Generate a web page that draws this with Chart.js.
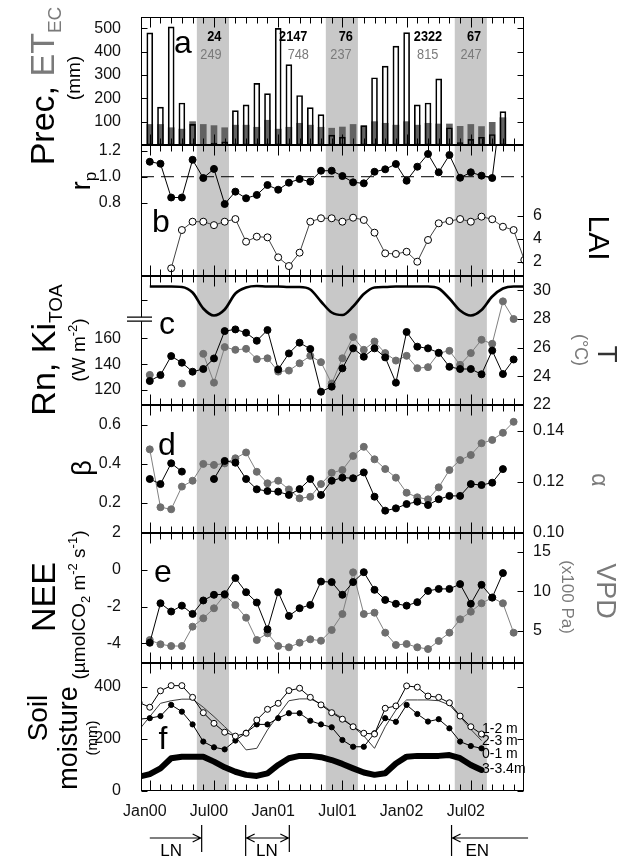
<!DOCTYPE html>
<html><head><meta charset="utf-8">
<script src="https://cdn.jsdelivr.net/npm/chart.js@4/dist/chart.umd.min.js"></script>
<style>
html,body{margin:0;padding:0;background:#fff;width:628px;height:857px;overflow:hidden}
#wrap{position:relative;width:628px;height:857px}
#wrap canvas{position:absolute;left:0;top:0}
</style></head><body><div id="wrap"></div>
<script>
// ---------------- DATA ----------------
const MONTHS = ['Jan00','Feb00','Mar00','Apr00','May00','Jun00','Jul00','Aug00','Sep00','Oct00','Nov00','Dec00',
  'Jan01','Feb01','Mar01','Apr01','May01','Jun01','Jul01','Aug01','Sep01','Oct01','Nov01','Dec01',
  'Jan02','Feb02','Mar02','Apr02','May02','Jun02','Jul02','Aug02','Sep02','Oct02','Nov02','Dec02'];
const MONTH_X = [0,1,2,3,4,5,6,7,8,9,10,11,12,13,14,15,16,17,18,19,20,21,22,23,24,25,26,27,28,29,30,31,32,33,34,35];
const SOIL_X = [-1,0,1,2,3,4,5,6,7,8,9,10,11,12,13,14,15,16,17,18,19,20,21,22,23,24,25,26,27,28,29,30,31,32,33,34,35];

// (a) monthly precipitation and ET_EC (mm)
const PREC  = [480,162,506,180,88,0,8,14,147,172,264,220,499,344,212,160,130,42,34,0,83,288,338,423,481,172,180,283,74,10,24,33,45,143,null,null];
const ET_EC = [88,88,74,68,100,88,83,74,85,85,76,106,68,76,93,85,76,72,77,88,82,100,93,85,100,85,93,90,90,80,88,79,97,117,null,null];
// seasonal totals printed in panel a
const SEASON_PREC = ['24','2147','76','2322','67'];
const SEASON_ET   = ['249','748','237','815','247'];
const SEASON_PREC_AT = [6.03,13.41,18.31,26.0,30.3];
const SEASON_ET_AT   = [5.72,13.88,17.87,25.97,30.02];

// (b)
const RP_REF = 1.0;
const RP  = [1.115,1.10,0.84,0.84,1.13,0.99,1.06,0.79,0.885,0.834,0.86,0.936,0.90,0.954,0.982,0.962,1.046,1.046,1.005,0.957,0.949,1.038,1.057,1.098,0.969,1.077,1.175,1.034,1.167,0.992,1.034,1.008,0.99,1.65,null,null];
const LAI = [null,null,1.42,4.77,5.5,5.5,5.2,5.5,5.73,3.75,4.19,4.13,2.38,1.62,2.79,5.5,5.8,5.8,5.5,5.85,5.65,4.54,2.73,2.68,2.87,2.0,3.9,5.36,5.56,5.73,5.5,5.94,5.71,5.06,4.77,2.15];

// (c)
const KI_TOA = [427,427,427,426,415,383,369,381,413,425,428,427,427,426,426,421,397,375,370,387,412,425,426,427,427,427,427,423,403,379,369,380,407,423,427,427];
const RN     = [127,131.6,146.3,141.2,134.2,136.3,144.5,165.7,167,164.4,158.2,166.5,136,148.4,156.7,151.8,118.7,122.6,136.8,152.3,145.8,152.3,145.3,125.7,165,153.6,152.3,148.9,138,136.3,136.3,132.2,150.6,132.4,143.7,null];
const T_AIR  = [24.1,null,null,23.5,null,25.57,23.56,26.04,25.85,25.92,25.2,25.26,24.33,24.4,24.91,25.43,24.99,23.5,25.26,26.74,25.85,26.43,25.62,25.1,25.43,24.57,24.64,25.62,25.78,24.8,25.62,26.55,26.27,29.23,28.0,null];

// (d)
const BETA  = [0.322,0.296,0.403,0.360,null,null,0.322,0.415,0.406,0.322,0.269,0.260,0.257,0.240,0.270,0.322,0.240,0.313,0.329,0.326,0.356,0.231,0.159,0.171,0.193,0.205,0.188,0.218,0.235,0.235,0.296,0.291,0.303,0.373,null,null];
const ALPHA = [0.1328,0.1101,0.1093,0.1182,0.1205,0.1271,0.1267,0.1273,0.1293,0.1316,0.1240,0.1195,0.1205,0.1171,0.1136,0.1142,0.1192,0.1236,0.1247,0.1302,0.1338,0.1289,0.1251,0.1217,0.1158,0.1140,0.1132,0.1179,0.1247,0.1286,0.1306,0.1352,0.1365,0.1393,0.1436,null];

// (e)
const NEE = [-3.97,-1.82,-2.27,-1.95,-2.40,-1.67,-1.36,-1.33,-0.45,-1.22,-1.78,-3.24,-1.22,-2.51,-2.09,-1.91,-0.64,-0.67,-1.36,-0.67,-0.13,-1.09,-1.64,-1.85,-1.95,-1.76,-1.15,-1.04,-1.04,-0.78,-1.85,-0.82,-1.51,-0.18,null,null];
const VPD = [3.82,3.28,3.06,3.06,5.51,6.57,7.84,9.52,8.25,6.65,3.82,4.67,3.06,2.90,3.48,3.91,3.73,5.09,7.11,12.39,7.11,7.28,4.75,3.19,3.32,2.90,2.68,3.70,4.75,6.44,7.41,8.47,9.18,8.47,4.75,null];

// (f) soil moisture (mm), starting Dec99
const SOIL_1_2  = [340,322,385,405,405,360,301,260,226,211,222,273,314,337,386,395,360,331,301,276,247,222,219,318,327,404,399,365,360,339,288,247,219,null,null,null,null];
const SOIL_2_3  = [235,286,337,347,353,353,322,286,247,209,158,164,235,292,347,354,354,335,305,280,247,212,164,247,311,350,350,350,347,331,286,237,194,null,null,null,null];
const SOIL_0_1  = [276,280,288,331,305,256,190,168,160,194,224,256,256,280,299,299,270,256,245,196,170,170,222,280,266,331,296,267,276,241,190,173,164,null,null,null,null];
const SOIL_3_34 = [55,65,87,126,132,132,132,113,91,74,62,58,68,100,126,135,135,130,119,104,87,71,62,68,106,132,135,135,135,138,126,100,81,null,null,null,null];
const SOIL_LABELS = ['1-2 m','2-3 m','0-1 m','3-3.4m'];

// dry seasons (shaded), in month units
const DRY_BANDS = [[4.4,7.4],[16.45,19.45],[28.5,31.5]];
// ENSO phases
const ENSO = [
  {label:'LN', from:0.0, to:4.85, startBar:false, endBar:true, labelAt:2.0},
  {label:'LN', from:8.96, to:13.04, startBar:true, endBar:true, labelAt:10.95},
  {label:'EN', from:28.2, to:35.35, startBar:true, endBar:false, labelAt:30.6}
];

// ---------------- LAYOUT ----------------
const PAGE_W = 628, PAGE_H = 857, PLOT_L = 141, PLOT_R = 524;
const X_MIN = -0.82, X_MAX = 34.97;
const PANELS = {a:[17,145], b:[145,276], c:[276,405], d:[405,533], e:[533,663], f:[663,791]};
const FONT = '"Liberation Sans", Arial, Helvetica, sans-serif';
const GRAY_DOT = '#6e6e6e', GRAY_LINE = '#808080', GRAY_TXT = '#7a7a7a', BAND = '#c8c8c8';
Chart.defaults.font.family = FONT;
Chart.defaults.color = '#111';

const xy = (arr, xs) => arr.map((v,i)=>({x:(xs||MONTH_X)[i], y:v}));

function yAxis(pos, min, max, ticks, fmt, extra) {
  return Object.assign({
    type:'linear', position:pos, min, max,
    afterBuildTicks: ax => { ax.ticks = ticks.map(v=>({value:v})); },
    afterFit: ax => { ax.width = pos === 'left' ? PLOT_L : PAGE_W - PLOT_R; ax.paddingTop = 0; ax.paddingBottom = 0; },
    grid:{display:false, drawTicks:false}, border:{display:false},
    ticks:{padding: pos==='left'?20:9, color:'#111', autoSkip:false, font:{size: 16}, callback: v => fmt(v)}
  }, extra||{});
}
const fInt = v => String(Math.round(v));
const f1 = v => v.toFixed(1);
const f2 = v => v.toFixed(2);

function drawRich(ctx, bx, cy, angle, parts) {
  ctx.save();
  ctx.translate(bx, cy);
  ctx.rotate(angle);
  let total = 0;
  parts.forEach(p => { ctx.font = (p.b?'bold ':'') + p.s + 'px ' + FONT; p._w = ctx.measureText(p.t).width; total += p._w; });
  let x = -total/2;
  ctx.textBaseline = 'alphabetic'; ctx.textAlign = 'left';
  parts.forEach(p => { ctx.font = (p.b?'bold ':'') + p.s + 'px ' + FONT; ctx.fillStyle = p.c || '#000'; ctx.fillText(p.t, x, p.dy || 0); x += p._w; });
  ctx.restore();
}
const UP = -Math.PI/2, DOWN = Math.PI/2;

function letter(ctx, t, x, y) {
  ctx.save(); ctx.font = '32px ' + FONT; ctx.fillStyle = '#000'; ctx.textAlign = 'center'; ctx.textBaseline = 'alphabetic';
  ctx.fillText(t, x, y); ctx.restore();
}

function framePlugin(opts) {
  return {
    id: 'frame',
    beforeDatasetsDraw(chart) {
      const {ctx, chartArea: ca, scales} = chart;
      ctx.save(); ctx.fillStyle = BAND;
      DRY_BANDS.forEach(([s,e]) => {
        const x1 = scales.x.getPixelForValue(s), x2 = scales.x.getPixelForValue(e);
        ctx.fillRect(x1, ca.top, x2 - x1, ca.bottom - ca.top);
      });
      ctx.restore();
    },
    afterDraw(chart) {
      const {ctx, chartArea: ca, scales} = chart;
      const L = Math.round(ca.left)+0.5, R = Math.round(ca.right)-0.5, T = Math.round(ca.top)+0.5, B = Math.round(ca.bottom)-0.5;
      ctx.save();
      ctx.strokeStyle = '#000'; ctx.lineWidth = 1;
      ctx.strokeRect(L, T, R-L, B-T);
      ctx.beginPath();
      MONTH_X.forEach((m,i) => {
        if (m < X_MIN || m > X_MAX) return;
        const px = Math.round(scales.x.getPixelForValue(m)) + 0.5;
        const major = /^(Jan|Jul)/.test(MONTHS[i]);
        const len = major ? 10 : 6;
        ctx.moveTo(px, T); ctx.lineTo(px, T + len);
        ctx.moveTo(px, B); ctx.lineTo(px, B - len);
      });
      (opts.left || []).forEach(id => {
        const sc = scales[id];
        sc.ticks.forEach(t => { const py = Math.round(sc.getPixelForValue(t.value)) + 0.5; ctx.moveTo(L, py); ctx.lineTo(L + 6, py); if (opts.mirror) { ctx.moveTo(R, py); ctx.lineTo(R - 6, py); } });
      });
      (opts.right || []).forEach(id => {
        const sc = scales[id];
        sc.ticks.forEach(t => { const py = Math.round(sc.getPixelForValue(t.value)) + 0.5; ctx.moveTo(R, py); ctx.lineTo(R - 6, py); });
      });
      ctx.stroke();
      ctx.restore();
      if (opts.after) opts.after(chart, ctx);
    }
  };
}

function makeChart(panel, datasets, scales, fopts, padRight) {
  const cv = document.createElement('canvas');
  cv.width = PAGE_W; cv.height = PAGE_H;
  cv.style.width = PAGE_W + 'px'; cv.style.height = PAGE_H + 'px';
  document.getElementById('wrap').appendChild(cv);
  const [top, bottom] = PANELS[panel];
  return new Chart(cv, {
    type: 'line',
    data: {datasets},
    options: {
      responsive:false, maintainAspectRatio:false, animation:false, events:[],
      devicePixelRatio: 1,
      layout: {padding: {top, bottom: PAGE_H - bottom, left: 0, right: padRight || 0}},
      plugins: {legend:{display:false}, tooltip:{enabled:false}},
      elements: {line:{tension:0}, point:{pointStyle:'circle'}},
      scales: Object.assign({x:{type:'linear', min:X_MIN, max:X_MAX, display:false, offset:false}}, scales)
    },
    plugins: [framePlugin(fopts)]
  });
}

function blackSeries(data, yAxisID, extra) {
  return Object.assign({data, yAxisID, borderColor:'#000', backgroundColor:'#000', pointBackgroundColor:'#000', pointBorderColor:'#000',
    borderWidth:1, pointRadius:3.5, pointBorderWidth:1, spanGaps:false}, extra || {});
}
function graySeries(data, yAxisID, extra) {
  return Object.assign({data, yAxisID, borderColor:GRAY_LINE, backgroundColor:GRAY_DOT, pointBackgroundColor:GRAY_DOT, pointBorderColor:GRAY_DOT,
    borderWidth:1, pointRadius:3.5, pointBorderWidth:1, spanGaps:false}, extra || {});
}

// ---------------- PANEL A ----------------
makeChart('a', [
  {type:'bar', data: xy(PREC), yAxisID:'yL', backgroundColor:'rgba(0,0,0,0)', borderColor:'#000', borderWidth:1, borderSkipped:false, barThickness:6, grouped:false, order:1},
  {type:'bar', data: xy(ET_EC), yAxisID:'yL', backgroundColor:'#626262', borderWidth:0, barThickness:6, grouped:false, order:2},
  {type:'bar', data: xy(PREC), yAxisID:'yL', backgroundColor:'#ffffff', borderWidth:0, barThickness:6, grouped:false, order:3}
], {
  yL: yAxis('left', 0, 548, [100,200,300,400,500], fInt)
}, {
  left:['yL'], mirror:true,
  after(chart, ctx) {
    const sx = chart.scales.x, top = chart.chartArea.top;
    ctx.save();
    ctx.textAlign = 'center'; ctx.textBaseline = 'alphabetic';
    SEASON_PREC.forEach((t,i) => {
      const px = sx.getPixelForValue(SEASON_PREC_AT[i]);
      ctx.save(); ctx.translate(px, top + 24); ctx.scale(0.85, 1);
      ctx.font = 'bold 15px ' + FONT; ctx.fillStyle = '#000'; ctx.fillText(t, 0, 0); ctx.restore();
    });
    SEASON_ET.forEach((t,i) => {
      const px = sx.getPixelForValue(SEASON_ET_AT[i]);
      ctx.save(); ctx.translate(px, top + 42); ctx.scale(0.85, 1);
      ctx.font = '15px ' + FONT; ctx.fillStyle = GRAY_TXT; ctx.fillText(t, 0, 0); ctx.restore();
    });
    ctx.restore();
    letter(ctx, 'a', 183, 53);
    drawRich(ctx, 54, 86, UP, [{t:'Prec, ', s:34}, {t:'ET', s:34, c:GRAY_TXT}, {t:'EC', s:19, c:GRAY_TXT, dy:7}]);
    drawRich(ctx, 80, 78, UP, [{t:'(mm)', s:19}]);
  }
}, PAGE_W - PLOT_R);

// ---------------- PANEL B ----------------
makeChart('b', [
  blackSeries(xy(RP), 'yL'),
  {data:[{x:X_MIN, y:RP_REF},{x:X_MAX, y:RP_REF}], yAxisID:'yL', borderColor:'#000', borderWidth:1, borderDash:[13,7], pointRadius:0},
  {data: xy(LAI), yAxisID:'yR', borderColor:'#444', borderWidth:1, pointRadius:3.5, pointBackgroundColor:'#fff', pointBorderColor:'#000', pointBorderWidth:1, spanGaps:false}
], {
  yL: yAxis('left', 0.236, 1.244, [0.8,1.0,1.2], f1),
  yR: yAxis('right', 0.749, 12.21, [2,4,6], fInt)
}, {
  left:['yL'], right:['yR'],
  after(chart, ctx) {
    letter(ctx, 'b', 161, 232);
    drawRich(ctx, 90, 181, UP, [{t:'r', s:27}, {t:'p', s:17, dy:6}]);
    drawRich(ctx, 589, 238, DOWN, [{t:'LAI', s:30}]);
  }
});

// ---------------- PANEL C ----------------
makeChart('c', [
  blackSeries(xy(RN), 'yL'),
  graySeries(xy(T_AIR), 'yR'),
  {data: xy(KI_TOA), yAxisID:'ki', borderColor:'#000', borderWidth:2.6, pointRadius:0, cubicInterpolationMode:'monotone'}
], {
  yL: yAxis('left', 108.4, 208.4, [120,140,160], fInt),
  ki: yAxis('left', 190, 448, [400], fInt, {weight:-1, afterFit: ax => { ax.width = 0; ax.paddingTop = 0; ax.paddingBottom = 0; }}),
  yR: yAxis('right', 22, 31, [22,24,26,28,30], fInt)
}, {
  left:['yL','ki'], right:['yR'],
  after(chart, ctx) {
    const ki = chart.scales.ki, yl = chart.scales.yL, L = chart.chartArea.left;
    const yb = (ki.getPixelForValue(400) + yl.getPixelForValue(160)) / 2;
    ctx.save();
    ctx.fillStyle = '#fff'; ctx.fillRect(L - 2, yb - 2, 5, 4);
    ctx.strokeStyle = '#000'; ctx.lineWidth = 1.2; ctx.beginPath();
    ctx.moveTo(L - 14, yb - 2); ctx.lineTo(L + 11, yb - 2);
    ctx.moveTo(L - 14, yb + 2); ctx.lineTo(L + 11, yb + 2);
    ctx.stroke(); ctx.restore();
    letter(ctx, 'c', 167, 334);
    drawRich(ctx, 55, 350, UP, [{t:'Rn, Ki', s:34}, {t:'TOA', s:19, dy:7}]);
    drawRich(ctx, 85, 350, UP, [{t:'(W m', s:19}, {t:'-2', s:13, dy:-8}, {t:')', s:19}]);
    drawRich(ctx, 598, 354, DOWN, [{t:'T', s:28, c:'#333'}]);
    drawRich(ctx, 575, 350, DOWN, [{t:'(°C)', s:18, c:GRAY_TXT}]);
  }
});

// ---------------- PANEL D ----------------
makeChart('d', [
  blackSeries(xy(BETA), 'yL'),
  graySeries(xy(ALPHA), 'yR')
], {
  yL: yAxis('left', 0.044, 0.703, [0.2,0.4,0.6], f1),
  yR: yAxis('right', 0.10, 0.1502, [0.10,0.12,0.14], f2)
}, {
  left:['yL'], right:['yR'],
  after(chart, ctx) {
    letter(ctx, 'd', 167, 455);
    drawRich(ctx, 91, 468, UP, [{t:'β', s:27}]);
    drawRich(ctx, 592, 480, DOWN, [{t:'α', s:23, c:GRAY_TXT}]);
  }
});

// ---------------- PANEL E ----------------
makeChart('e', [
  blackSeries(xy(NEE), 'yL'),
  graySeries(xy(VPD), 'yR')
], {
  yL: yAxis('left', -5.07, 2.0, [-4,-2,0,2], fInt),
  yR: yAxis('right', 0.91, 17.37, [5,10,15], fInt)
}, {
  left:['yL'], right:['yR'],
  after(chart, ctx) {
    letter(ctx, 'e', 163, 582);
    drawRich(ctx, 55, 597, UP, [{t:'NEE', s:34}]);
    drawRich(ctx, 85, 605, UP, [{t:'(µmolCO', s:19}, {t:'2', s:13, dy:5}, {t:' m', s:19}, {t:'-2', s:13, dy:-8}, {t:' s', s:19}, {t:'-1', s:13, dy:-8}, {t:')', s:19}]);
    drawRich(ctx, 597, 591, DOWN, [{t:'VPD', s:27, c:GRAY_TXT}]);
    drawRich(ctx, 562, 597, DOWN, [{t:'(x100 Pa)', s:17, c:GRAY_TXT}]);
  }
});

// ---------------- PANEL F ----------------
makeChart('f', [
  {data: xy(SOIL_1_2, SOIL_X), yAxisID:'yL', borderColor:'#000', borderWidth:1, pointRadius:3, pointBackgroundColor:'#fff', pointBorderColor:'#000', pointBorderWidth:1},
  {data: xy(SOIL_0_1, SOIL_X), yAxisID:'yL', borderColor:'#000', borderWidth:1, pointRadius:2.6, pointBackgroundColor:'#000', pointBorderColor:'#000'},
  {data: xy(SOIL_2_3, SOIL_X), yAxisID:'yL', borderColor:'#3a3a3a', borderWidth:1, pointRadius:0},
  {data: xy(SOIL_3_34, SOIL_X), yAxisID:'yL', borderColor:'#000', borderWidth:6, pointRadius:0, borderJoinStyle:'round', borderCapStyle:'round'}
], {
  yL: yAxis('left', 0, 492, [0,200,400], fInt)
}, {
  left:['yL'], mirror:true,
  after(chart, ctx) {
    const sx = chart.scales.x, B = chart.chartArea.bottom;
    letter(ctx, 'f', 163, 749);
    drawRich(ctx, 47, 718, UP, [{t:'Soil', s:28}]);
    drawRich(ctx, 77, 738, UP, [{t:'moisture', s:27}]);
    drawRich(ctx, 97, 738, UP, [{t:'(mm)', s:15}]);
    ctx.save(); ctx.font = '14px ' + FONT; ctx.fillStyle = '#000'; ctx.textAlign = 'left'; ctx.textBaseline = 'middle';
    const lblY = [729, 741, 754, 769];
    SOIL_LABELS.forEach((t,i) => ctx.fillText(t, 482, lblY[i]));
    ctx.font = '16px ' + FONT; ctx.fillStyle = '#111'; ctx.textAlign = 'center'; ctx.textBaseline = 'middle';
    MONTHS.forEach((m,i) => { if (/^(Jan|Jul)/.test(m)) ctx.fillText(m, sx.getPixelForValue(MONTH_X[i]) - 5, B + 21); });
    ctx.strokeStyle = '#000'; ctx.lineWidth = 1.2;
    const ay = 838;
    ENSO.forEach(e => {
      const x1 = sx.getPixelForValue(e.from), x2 = sx.getPixelForValue(e.to);
      ctx.beginPath();
      ctx.moveTo(x1, ay); ctx.lineTo(x2, ay);
      if (e.endBar) { ctx.moveTo(x2, ay - 13); ctx.lineTo(x2, ay + 14); ctx.moveTo(x2 - 9, ay - 4); ctx.lineTo(x2 - 1, ay); ctx.lineTo(x2 - 9, ay + 4); }
      if (e.startBar) { ctx.moveTo(x1, ay - 13); ctx.lineTo(x1, ay + 18); ctx.moveTo(x1 + 9, ay - 4); ctx.lineTo(x1 + 1, ay); ctx.lineTo(x1 + 9, ay + 4); }
      ctx.stroke();
      ctx.font = '17px ' + FONT; ctx.textAlign = 'center'; ctx.textBaseline = 'alphabetic'; ctx.fillStyle = '#000';
      ctx.fillText(e.label, sx.getPixelForValue(e.labelAt), 856);
    });
    ctx.restore();
  }
}, PAGE_W - PLOT_R);
</script>
</body></html>
